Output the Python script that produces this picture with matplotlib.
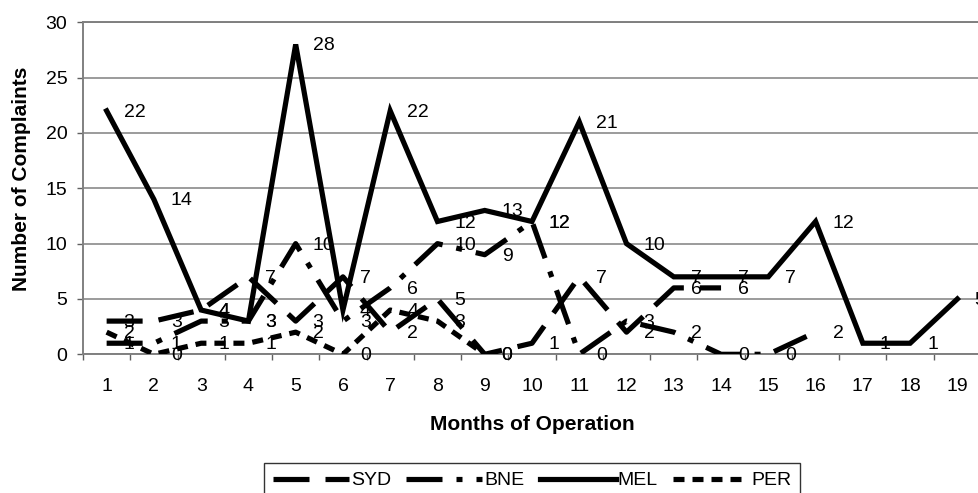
"""Monthly complaints per site: line chart with data labels."""

import matplotlib
matplotlib.use("Agg")
import matplotlib.pyplot as plt
from matplotlib.lines import Line2D

# data (series stop where the reporting stopped)
months = list(range(1, 20))
syd = [3, 3, 4, 7, 3, 7, 2, 5, 0, 1, 7, 2, 6, 6]
bne = [1, 1, 3, 3, 10, 3, 6, 10, 9, 12, 0, 3, 2, 0, 0, 2]
mel = [22, 14, 4, 3, 28, 4, 22, 12, 13, 12, 21, 10, 7, 7, 7, 12, 1, 1, 5]
per = [2, 0, 1, 1, 2, 0, 4, 3, 0]
series_names = ["SYD", "BNE", "MEL", "PER"]

W, H = 979, 493
PX = 72 / 100  # points per pixel at dpi 100


def plot_complaints(output_path="out.png"):
    plt.rcParams["font.family"] = ["Liberation Sans", "DejaVu Sans"]
    plt.rcParams["lines.scale_dashes"] = False

    fig = plt.figure(figsize=(W / 100, H / 100), dpi=100)
    ax = fig.add_axes([83 / W, 1 - 354.3 / H, (981 - 83) / W, (354.3 - 22.3) / H])

    lw = 5.2 * PX
    styles = {
        "SYD": (0, (36 * PX, 16 * PX)),
        "BNE": (0, (36 * PX, 14 * PX, 6 * PX, 14 * PX)),
        "MEL": "-",
        "PER": (0, (11 * PX, 8 * PX)),
    }
    values = {"SYD": syd, "BNE": bne, "MEL": mel, "PER": per}

    for name in series_names:
        ys = values[name]
        xs = months[:len(ys)]
        ax.plot(xs, ys, color="black", linewidth=lw, linestyle=styles[name],
                dash_capstyle="butt", solid_joinstyle="miter", zorder=3)
        for x, y in zip(xs, ys):
            ax.annotate(f"{y}", (x, y), xytext=(17 * PX, -1.5 * PX),
                        textcoords="offset points", ha="left", va="center",
                        fontsize=14, color="black", zorder=4,
                        annotation_clip=False)

    ax.set_xlim(0.5, 19.5)
    ax.set_ylim(0, 30)
    ax.set_yticks(range(0, 31, 5))
    ax.set_xticks(months)
    ax.set_xticks([m + 0.5 for m in range(0, 20)], minor=True)
    ax.tick_params(axis="x", which="major", length=0, pad=17, labelsize=14)
    ax.tick_params(axis="x", which="minor", length=6 * PX, width=1, color="#606060")
    ax.tick_params(axis="y", length=6 * PX, width=1, color="#606060", pad=7,
                   labelsize=14)

    ax.grid(axis="y", color="#808080", linewidth=1.1)
    ax.set_axisbelow(True)
    for side in ["left", "top", "bottom", "right"]:
        ax.spines[side].set_color("#808080")
        ax.spines[side].set_linewidth(1.4)

    fig.text(22 / W, 1 - 179 / H, "Number of Complaints", rotation=90,
             ha="center", va="center", fontsize=15, fontweight="bold")
    fig.text(532 / W, 1 - 424 / H, "Months of Operation",
             ha="center", va="center", fontsize=15, fontweight="bold")

    handles = [Line2D([], [], color="black", linewidth=lw, linestyle=styles[n],
                      dash_capstyle="butt") for n in series_names]
    leg = fig.legend(handles, series_names, loc="upper center",
                     bbox_to_anchor=(532 / W, 1 - 463 / H), ncol=4, fontsize=14,
                     handlelength=3.9, handletextpad=0.1, columnspacing=0.8,
                     borderpad=0.45, borderaxespad=0, frameon=True,
                     fancybox=False)
    leg.get_frame().set_edgecolor("black")
    leg.get_frame().set_linewidth(1.0)

    fig.savefig(output_path, dpi=100)
    plt.close(fig)
    return fig


if __name__ == "__main__":
    plot_complaints("out.png")
